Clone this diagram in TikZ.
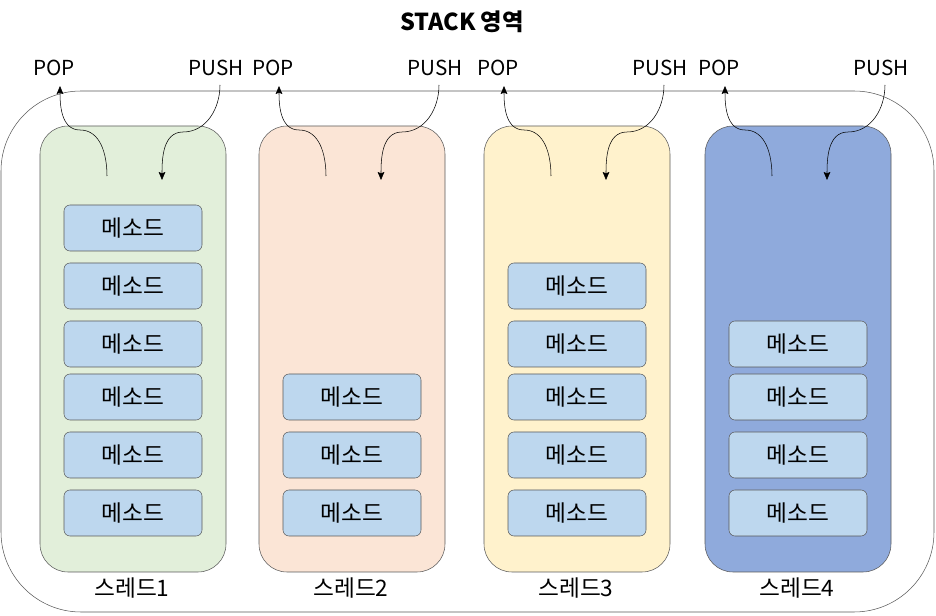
\documentclass[tikz,border=0pt]{standalone}
\usepackage{fontspec}
\setmainfont{Noto Sans CJK KR}
\usetikzlibrary{arrows.meta}
\definecolor{thrgreen}{HTML}{E2EFDA}
\definecolor{thrpeach}{HTML}{FBE5D6}
\definecolor{thryellow}{HTML}{FFF2CC}
\definecolor{thrblue}{HTML}{8FAADC}
\definecolor{methfill}{HTML}{BDD7EE}
\definecolor{edgegray}{HTML}{595959}

\tikzset{
  thread/.style={draw=edgegray,rounded corners=21pt,minimum width=139.5pt,minimum height=334.5pt,inner sep=0pt},
  method/.style={draw=edgegray,fill=methfill,rounded corners=4.5pt,minimum width=103.5pt,minimum height=34.5pt,inner sep=0pt,font=\fontsize{17}{20}\selectfont},
  lbl/.style={font=\fontsize{15.5}{18}\selectfont,inner sep=0pt},
  flow/.style={thin,-{Stealth[length=6pt,width=5pt,inset=1pt]}}
}

\begin{document}
\begin{tikzpicture}[x=0.75pt,y=-0.75pt]
  \useasboundingbox (0,0) rectangle (936,616);
  \node (title) at (462,22) [lbl,font=\fontsize{17.5}{20}\selectfont\bfseries] {STACK 영역};
  \node (stack) at (467.5,351.5) [draw=edgegray,rounded corners=60pt,minimum width=699.75pt,minimum height=390.75pt,inner sep=0pt] {};
  \foreach \i/\L/\col in {1/40/thrgreen,2/259/thrpeach,3/484/thryellow,4/705/thrblue} {
    \node (th\i) at (\L+93,349) [thread,fill=\col] {};
    \node (tl\i) at (\L+92,588) [lbl,font=\fontsize{17}{20}\selectfont] {스레드\i};
    \node (pop\i) at (\L+14,68) [lbl] {POP};
    \node (push\i) at (\L+176,68) [lbl] {PUSH};
    \coordinate (pops\i) at (\L+67,176);
    \coordinate (popm\i) at (\L+40,130);
    \coordinate (pope\i) at (\L+20,86);
    \coordinate (pushs\i) at (\L+180,85);
    \coordinate (pushm\i) at (\L+143,132);
    \coordinate (pushe\i) at (\L+122,180);
    \draw [flow] (pops\i) to[out=90,in=0] (popm\i) to[out=180,in=-90] (pope\i);
    \draw [flow] (pushs\i) to[out=-90,in=0] (pushm\i) to[out=180,in=90] (pushe\i);
  }
  \foreach \i/\L/\rows in {1/40/{228,286,344,397,455,513},2/259/{397,455,513},3/484/{286,344,397,455,513},4/705/{344,397,455,513}} {
    \foreach \y [count=\k] in \rows
      \node (m\i-\k) at (\L+93,\y) [method] {메소드};
  }
\end{tikzpicture}
\end{document}
